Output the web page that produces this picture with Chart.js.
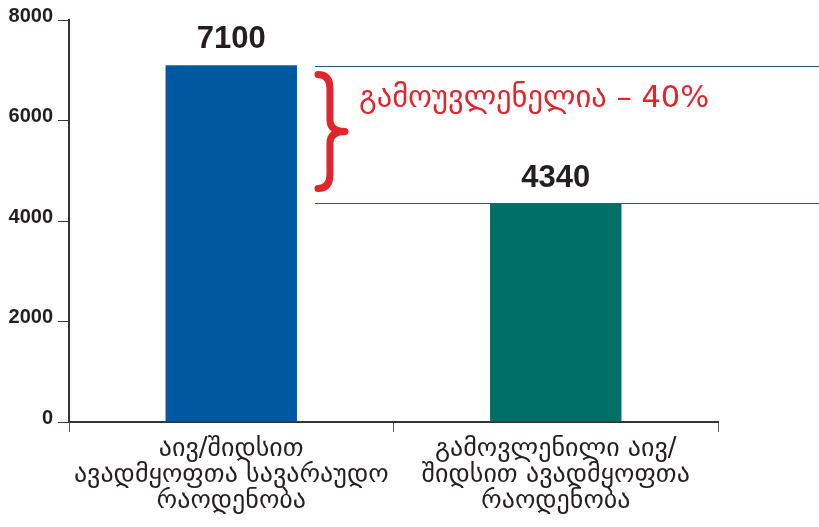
<!DOCTYPE html>
<html>
<head>
<meta charset="utf-8">
<script src="https://cdn.jsdelivr.net/npm/chart.js@4"></script>
<style>
  html, body { margin: 0; padding: 0; background: #fff; }
  #wrap { width: 819px; height: 527px; position: relative; }
</style>
</head>
<body>
<div id="wrap"><canvas id="myChart"></canvas></div>
<script>
const categories = [
  ['აივ/შიდსით', 'ავადმყოფთა სავარაუდო', 'რაოდენობა'],
  ['გამოვლენილი აივ/', 'შიდსით ავადმყოფთა', 'რაოდენობა']
];
const values = [7100, 4340];
const barColors = ['#0058a0', '#006f65'];
const yTicks = [0, 2000, 4000, 6000, 8000];
const gapLabel = 'გამოუვლენელია – 40%';

const ink = '#231f20';
const red = '#e0252d';

// value labels, the two guide lines and the red brace with its note
const gapPlugin = {
  id: 'gapNote',
  afterDatasetsDraw(chart) {
    const ctx = chart.ctx;
    const y = chart.scales.y;
    const bars = chart.getDatasetMeta(0).data;

    ctx.save();
    ctx.fillStyle = ink;
    ctx.font = 'bold 31px "Liberation Sans", Arial, sans-serif';
    ctx.textAlign = 'center';
    ctx.textBaseline = 'alphabetic';
    bars.forEach((bar, i) => {
      ctx.fillText(String(values[i]), bar.x, y.getPixelForValue(values[i]) - 17);
    });

    const yHi = Math.round(y.getPixelForValue(values[0])) + 1.5;
    const yLo = Math.round(y.getPixelForValue(values[1])) - 0.5;
    const xStart = bars[0].x + bars[0].width / 2 + 18;

    ctx.strokeStyle = '#2a5590';
    ctx.lineWidth = 1;
    ctx.beginPath();
    ctx.moveTo(xStart, yHi); ctx.lineTo(chart.width, yHi);
    ctx.moveTo(xStart, yLo); ctx.lineTo(chart.width, yLo);
    ctx.stroke();

    // curly brace
    const x0 = xStart + 3, x1 = xStart + 15, x2 = xStart + 30;
    const top = yHi + 8, bot = yLo - 15, mid = (top + bot) / 2;
    ctx.strokeStyle = red;
    ctx.lineWidth = 7;
    ctx.lineCap = 'round';
    ctx.lineJoin = 'round';
    ctx.beginPath();
    ctx.moveTo(x0, top);
    ctx.quadraticCurveTo(x1, top, x1, top + 14);
    ctx.lineTo(x1, mid - 12);
    ctx.quadraticCurveTo(x1, mid, x2, mid);
    ctx.quadraticCurveTo(x1, mid, x1, mid + 12);
    ctx.lineTo(x1, bot - 14);
    ctx.quadraticCurveTo(x1, bot, x0, bot);
    ctx.stroke();

    ctx.fillStyle = red;
    ctx.font = '30.5px "DejaVu Sans", sans-serif';
    ctx.textAlign = 'left';
    ctx.fillText(gapLabel, xStart + 44, yHi + 40);
    ctx.restore();
  }
};

new Chart(document.getElementById('myChart'), {
  type: 'bar',
  data: {
    labels: categories,
    datasets: [{
      data: values,
      backgroundColor: barColors,
      borderWidth: 0,
      barPercentage: 0.81,
      categoryPercentage: 0.5
    }]
  },
  options: {
    responsive: true,
    maintainAspectRatio: false,
    animation: false,
    layout: { padding: { top: 20, right: 101, left: 0, bottom: 0 } },
    plugins: {
      legend: { display: false },
      tooltip: { enabled: false }
    },
    scales: {
      x: {
        offset: true,
        afterFit(scale) { scale.height = 105; },
        border: { display: true, color: '#333', width: 2 },
        grid: {
          offset: true,
          drawOnChartArea: false,
          drawTicks: true,
          tickLength: 10,
          color: '#555'
        },
        ticks: {
          color: ink,
          padding: 4,
          font: { family: '"DejaVu Sans", sans-serif', size: 26, lineHeight: 1.0 },
          maxRotation: 0,
          autoSkip: false
        }
      },
      y: {
        min: 0,
        max: 8000,
        afterFit(scale) { scale.width = 69; },
        afterBuildTicks(scale) { scale.ticks = yTicks.map(v => ({ value: v })); },
        border: { display: true, color: '#333', width: 2 },
        grid: {
          drawOnChartArea: false,
          drawTicks: true,
          tickLength: 11,
          color: '#333'
        },
        ticks: {
          color: ink,
          padding: 5,
          labelOffset: -4,
          callback: (v) => String(v),
          font: { family: '"Liberation Sans", Arial, sans-serif', size: 20, weight: 'bold' }
        }
      }
    }
  },
  plugins: [gapPlugin]
});
</script>
</body>
</html>
